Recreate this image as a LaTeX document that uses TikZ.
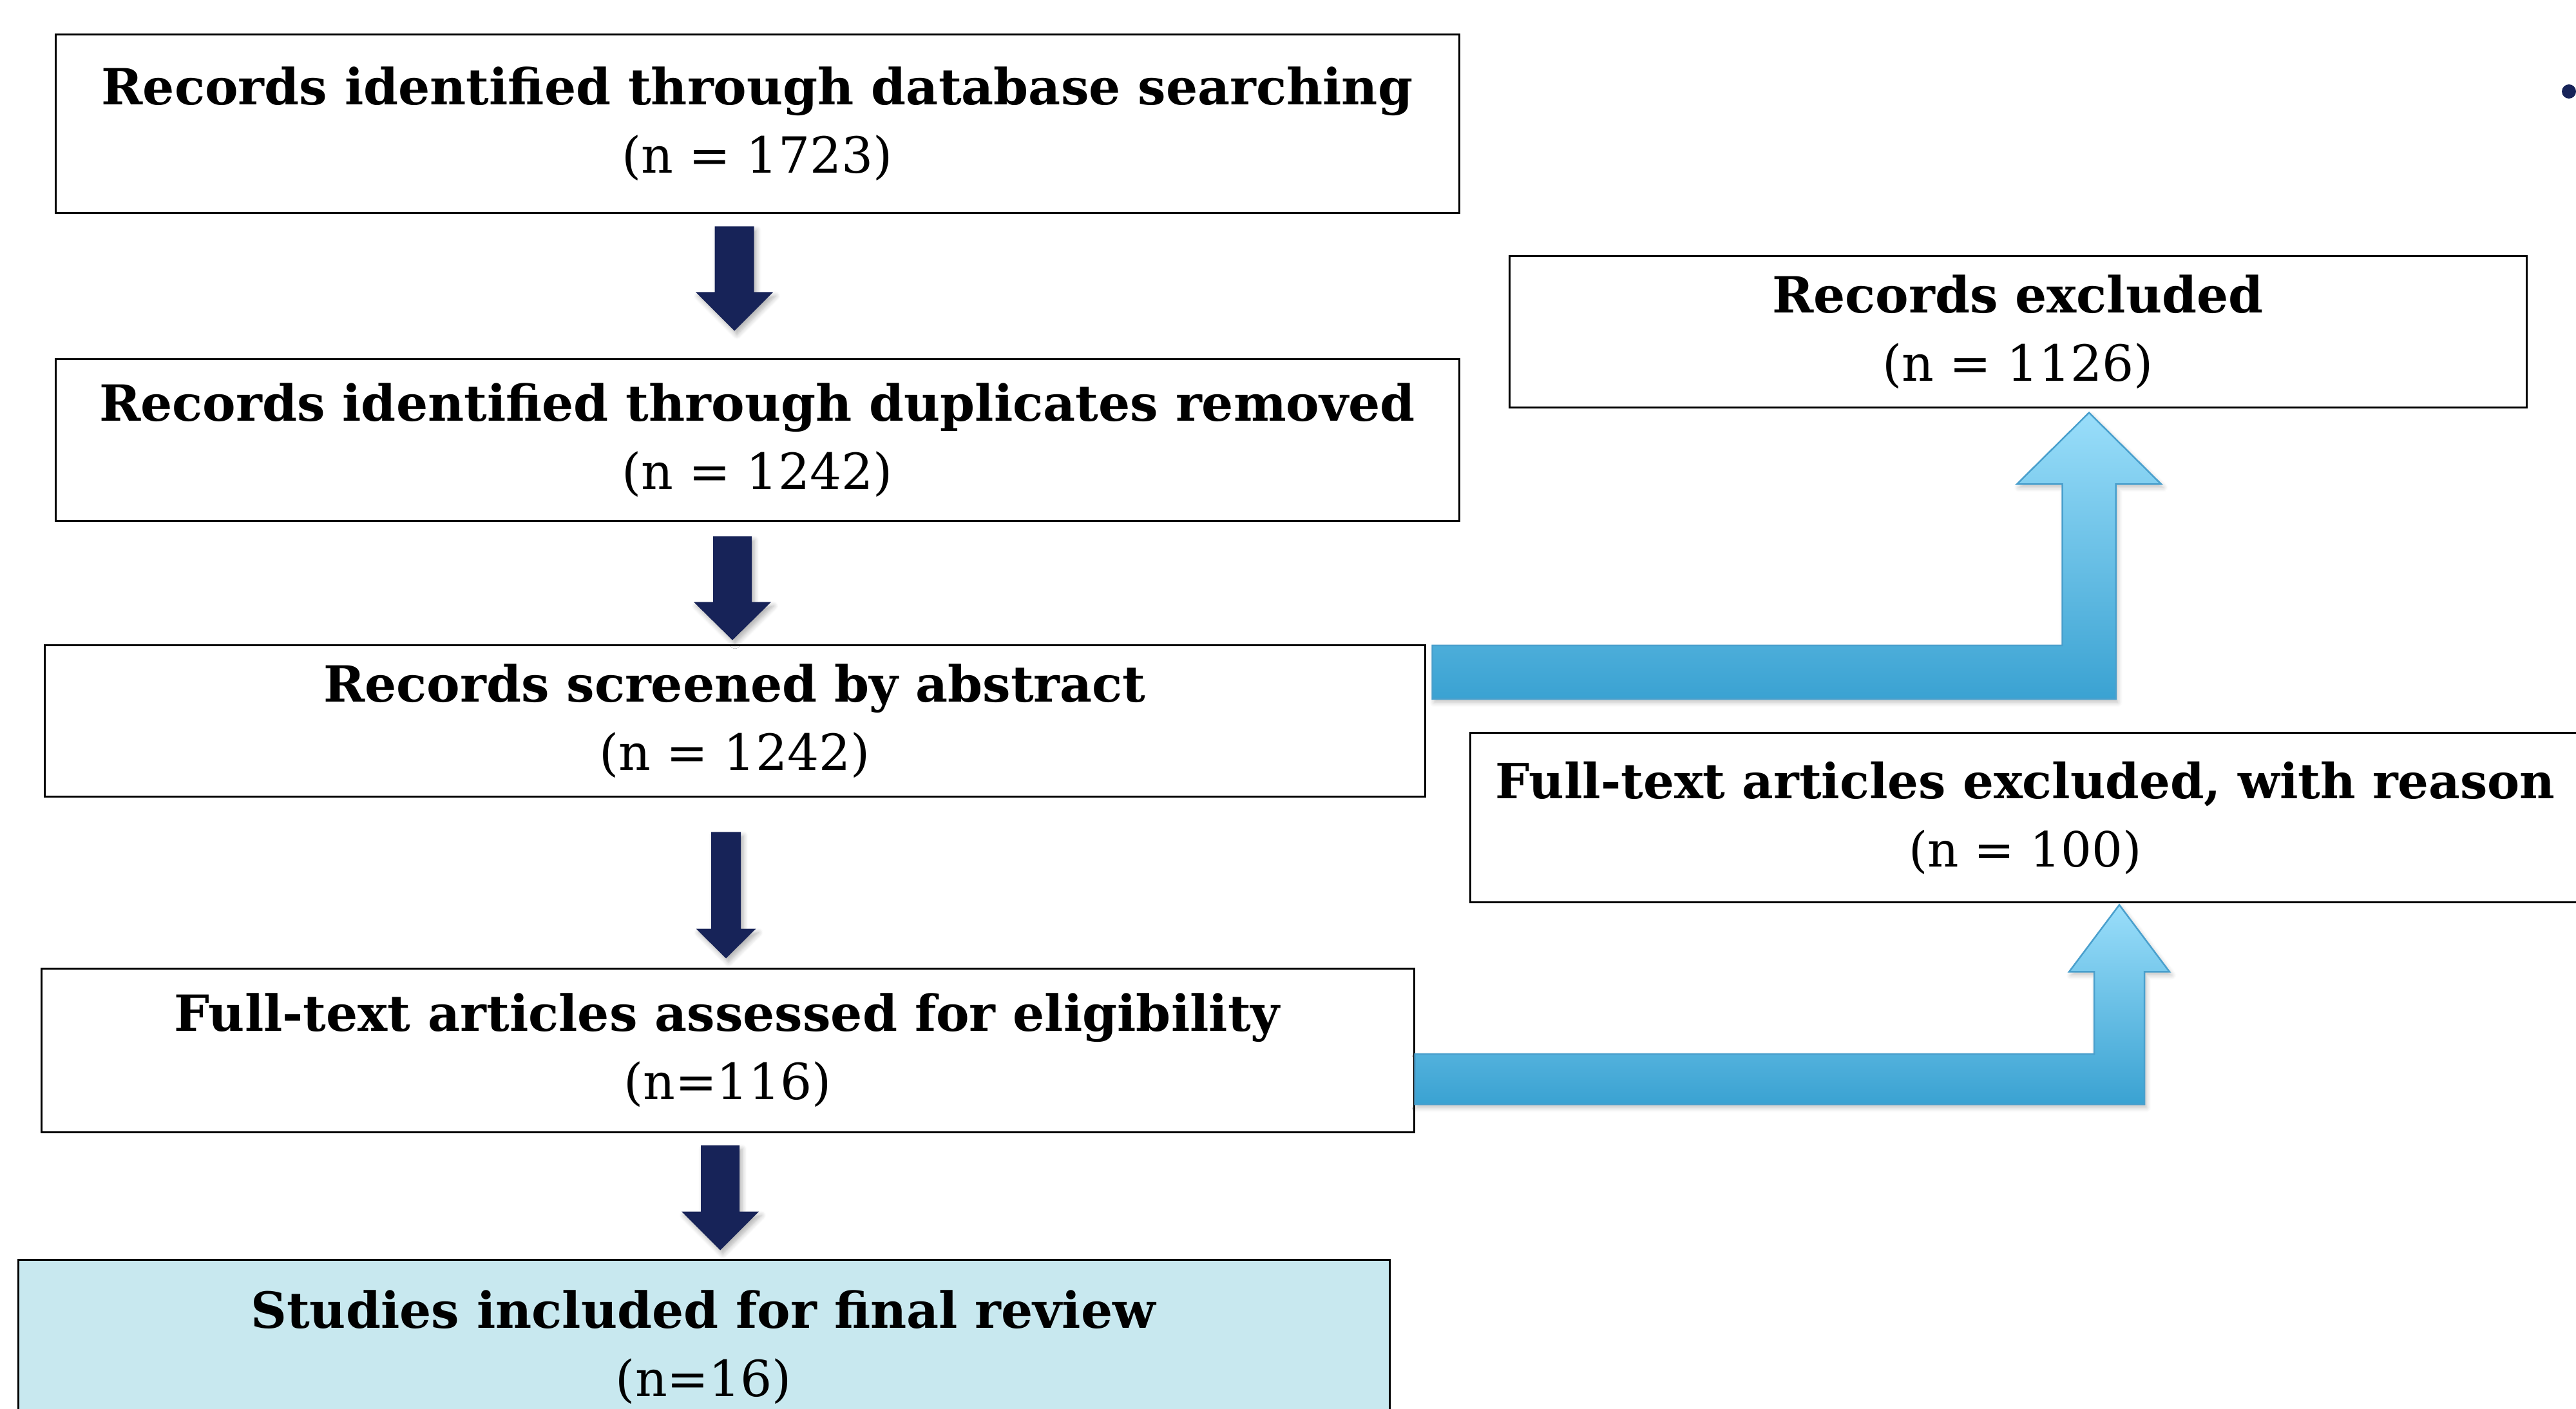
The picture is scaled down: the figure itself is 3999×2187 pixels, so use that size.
\documentclass[tikz,border=0pt]{standalone}
\usepackage{fontspec}
\setmainfont{DejaVu Serif}
\usetikzlibrary{calc,shadows.blur}

\definecolor{stepnavy}{RGB}{23,35,88}
\definecolor{sidetop}{RGB}{154,222,250}
\definecolor{sidebottom}{RGB}{58,162,210}
\definecolor{sideline}{RGB}{74,160,205}
\definecolor{finalfill}{RGB}{200,232,239}

% straight block arrow: start, tip, half shaft, half head, head length
\newcommand{\stepdown}[5]{%
  \fill[stepfill] let \p1=(#1), \p2=(#2) in
    (\x2-#3,\y1) -- (\x2+#3,\y1) -- (\x2+#3,\y2+#5) -- (\x2+#4,\y2+#5)
    -- (\x2,\y2) -- (\x2-#4,\y2+#5) -- (\x2-#3,\y2+#5) -- cycle;}

% bent block arrow going right, then up: start, tip, half width, half head, head length
\newcommand{\stepaside}[5]{%
  \shade[sidefill] let \p1=(#1), \p2=(#2) in
    (\x1,\y1+#3) -- (\x2-#3,\y1+#3) -- (\x2-#3,\y2-#5) -- (\x2-#4,\y2-#5)
    -- (\x2,\y2) -- (\x2+#4,\y2-#5) -- (\x2+#3,\y2-#5) -- (\x2+#3,\y1-#3)
    -- (\x1,\y1-#3) -- cycle;}

\begin{document}
\begin{tikzpicture}[x=0.1mm,y=-0.1mm,
                    stepfill/.style={fill=stepnavy,
                      blur shadow={shadow xshift=0.4mm,shadow yshift=-0.6mm,shadow opacity=30,shadow blur steps=6}},
                    sidefill/.style={top color=sidetop,bottom color=sidebottom,draw=sideline,line width=0.25mm,
                      blur shadow={shadow xshift=0.3mm,shadow yshift=-0.5mm,shadow opacity=25,shadow blur steps=6}}]
  \tikzstyle{box}=[draw=black,line width=0.3mm,fill=white,align=center,inner sep=0pt,
                   font=\fontsize{22}{30.2}\selectfont]

  \useasboundingbox (0,0) rectangle (3999,2187);
  \clip (0,0) rectangle (3999,2187);

  \node[box,minimum width=217.9mm,minimum height=27.7mm] (b1) at (1175.5,192.5)
    {\textbf{Records identified through database searching}\\(n = 1723)};
  \node[box,minimum width=217.9mm,minimum height=25.1mm] (b2) at (1175.5,683.5)
    {\textbf{Records identified through duplicates removed}\\(n = 1242)};
  \node[box,minimum width=214.3mm,minimum height=23.5mm] (b3) at (1140.5,1119.5)
    {\textbf{Records screened by abstract}\\(n = 1242)};
  \node[box,minimum width=213.1mm,minimum height=25.4mm] (b4) at (1129.5,1630)
    {\textbf{Full-text articles assessed for eligibility}\\(n=116)};
  \node[box,fill=finalfill,minimum width=212.9mm,minimum height=27.2mm] (b5) at (1092.5,2091)
    {\textbf{Studies included for final review}\\(n=16)};

  \node[box,minimum width=157.9mm,minimum height=23.5mm] (r1) at (3132.5,515)
    {\textbf{Records excluded}\\(n = 1126)};
  \node[box,font=\fontsize{21.4}{30.2}\selectfont,minimum width=172.4mm,minimum height=26.3mm] (r2) at (3144,1269.5)
    {\textbf{Full-text articles excluded, with reason}\\(n = 100)};

  % ends of the arrows
  \coordinate (a1s) at ($(b1.south)+(-35.5,19)$);
  \coordinate (a1e) at ($(b2.north)+(-35.5,-43)$);
  \coordinate (a2s) at ($(b2.south)+(-38.5,22)$);
  \coordinate (a2e) at ($(b3.north)+(-3.5,-7)$);
  \coordinate (a3s) at ($(b3.south)+(-14.5,53)$);
  \coordinate (a3e) at ($(b4.north)+(-2.5,-14)$);
  \coordinate (a4s) at ($(b4.south)+(-12.5,19)$);
  \coordinate (a4e) at ($(b5.north)+(25.5,-13)$);
  \coordinate (s1s) at ($(b3.east)+(10,-76)$);
  \coordinate (s1e) at ($(r1.south)+(110.5,6.5)$);
  \coordinate (s2s) at ($(b4.east)+(0,45)$);
  \coordinate (s2e) at ($(r2.south)+(146,2)$);

  \stepdown{a1s}{a1e}{3.05mm}{6mm}{6mm}
  \stepdown{a2s}{a2e}{3mm}{6mm}{5.9mm}
  \stepdown{a3s}{a3e}{2.3mm}{4.65mm}{4.6mm}
  \stepdown{a4s}{a4e}{3mm}{6mm}{6mm}

  \stepaside{s1s}{s1e}{4.15mm}{11.2mm}{11.1mm}
  \stepaside{s2s}{s2e}{3.9mm}{7.8mm}{10.4mm}

  \fill[stepnavy] (3988,142) circle (1.1mm);
\end{tikzpicture}
\end{document}
